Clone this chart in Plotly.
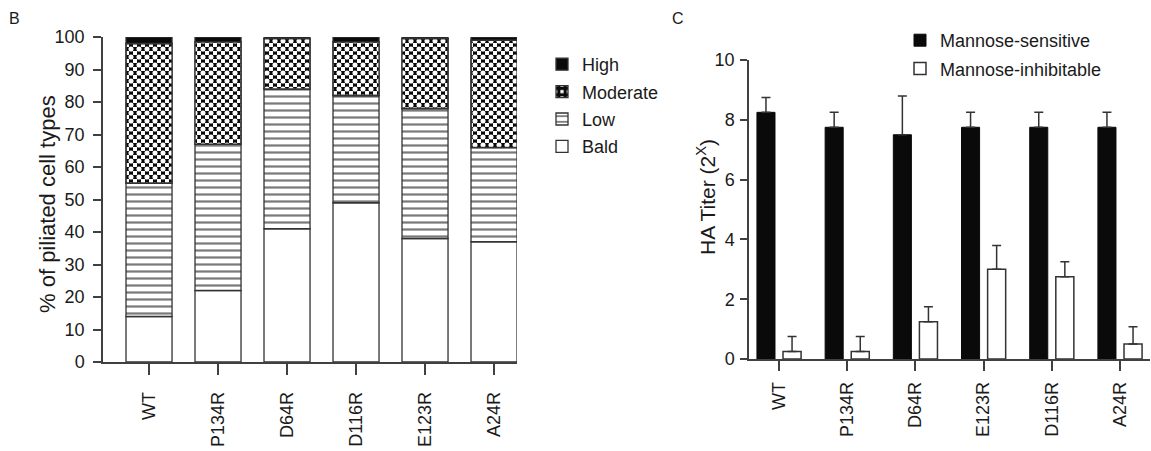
import numpy as np
import plotly.graph_objects as go

# Panel B: piliation categories per strain (% of cells)
strains_b = ["WT", "P134R", "D64R", "D116R", "E123R", "A24R"]
bald = [14, 22, 41, 49, 38, 37]
low = [41, 45, 43, 33, 40, 29]
moderate = [43, 31.5, 15.5, 16.5, 21.5, 33]
high = [2, 1.5, 0.5, 1.5, 0.5, 1]
ticks_b = [0, 10, 20, 30, 40, 50, 60, 70, 80, 90, 100]

# Panel C: haemagglutination titres (log2) with upper error bars
strains_c = ["WT", "P134R", "D64R", "E123R", "D116R", "A24R"]
sensitive = [8.25, 7.75, 7.5, 7.75, 7.75, 7.75]
sensitive_err = [0.5, 0.5, 1.3, 0.5, 0.5, 0.5]
inhibitable = [0.25, 0.25, 1.25, 3.0, 2.75, 0.5]
inhibitable_err = [0.5, 0.5, 0.5, 0.8, 0.5, 0.58]
ticks_c = [0, 2, 4, 6, 8, 10]

W, H = 1151, 451
FONT = "Liberation Sans, Arial, Helvetica, sans-serif"
TXT = "#1a1a1a"
EDGE = "#333333"
AXIS = "#404040"
INK = "#0a0a0a"
CLEAR = "rgba(0,0,0,0)"
CHECK = 8  # checker tile size (two squares per side)


def fx(p):
    return p / W


def fy(p):
    return 1 - p / H


# stacked segment bases
base_low = np.array(bald, dtype=float)
base_mod = base_low + np.array(low, dtype=float)
base_high = base_mod + np.array(moderate, dtype=float)

seg_line = dict(color=EDGE, width=1.3)
common_b = dict(x=strains_b, offsetgroup="b", width=0.667, legend="legend",
                xaxis="x", yaxis="y", hoverinfo="x+y+name")

fig = go.Figure()
fig.add_bar(y=bald, base=[0] * len(bald), name="Bald", legendgroup="bald",
            legendrank=4, marker=dict(color="white", line=seg_line), **common_b)
fig.add_bar(y=low, base=base_low, name="Low", legendgroup="low", legendrank=3,
            marker=dict(color="#7a7a7a", line=seg_line,
                        pattern=dict(shape="-", size=7, solidity=0.32, fgopacity=1,
                                     fgcolor="#7a7a7a", bgcolor="white")),
            **common_b)
fig.add_bar(y=moderate, base=base_mod, name="Moderate", legendgroup="moderate",
            legendrank=2,
            marker=dict(color=INK, line=seg_line,
                        pattern=dict(shape="+", size=CHECK, solidity=0.75, fgopacity=1,
                                     fgcolor=INK, bgcolor="white")),
            **common_b)
# white dots on the grid crossings turn the grid into a checkerboard
fig.add_bar(y=moderate, base=base_mod, name="Moderate", legendgroup="moderate",
            legendrank=2, showlegend=False,
            marker=dict(color=CLEAR, line=seg_line,
                        pattern=dict(shape=".", size=CHECK, solidity=0.32, fgopacity=1,
                                     fgcolor="white", bgcolor=CLEAR)),
            **common_b)
fig.add_bar(y=high, base=base_high, name="High", legendgroup="high", legendrank=1,
            marker=dict(color=INK, line=seg_line), **common_b)

err_style = dict(type="data", symmetric=False, color=EDGE, thickness=1.5, width=4.5)
fig.add_bar(x=strains_c, y=sensitive, name="Mannose-sensitive", offsetgroup="ms",
            legendgroup="ms", xaxis="x2", yaxis="y2", legend="legend2",
            marker=dict(color=INK, line=dict(color=INK, width=1)),
            error_y=dict(array=sensitive_err, arrayminus=[0] * len(sensitive), **err_style))
fig.add_bar(x=strains_c, y=inhibitable, name="Mannose-inhibitable", offsetgroup="mi",
            legendgroup="mi", xaxis="x2", yaxis="y2", legend="legend2",
            marker=dict(color="white", line=dict(color=EDGE, width=1.5)),
            error_y=dict(array=inhibitable_err, arrayminus=[0] * len(inhibitable), **err_style))

axis_common = dict(showline=True, linecolor=AXIS, linewidth=1.5, ticks="outside",
                   tickcolor=AXIS, tickwidth=1.5, showgrid=False, zeroline=False,
                   automargin=False,
                   tickfont=dict(family=FONT, size=18, color=TXT), fixedrange=True)

fig.update_layout(
    width=W, height=H,
    margin=dict(l=0, r=0, t=0, b=0, autoexpand=False),
    paper_bgcolor="white", plot_bgcolor="white",
    font=dict(family=FONT, size=18, color=TXT),
    barmode="group", bargap=0.235, bargroupgap=0.308,
    showlegend=True,
    xaxis=dict(domain=[fx(103), fx(517)], range=[-0.667, 5.333], anchor="y",
               tickangle=-90, ticklen=11, ticklabelstandoff=10, **axis_common),
    yaxis=dict(domain=[fy(362), fy(37)], range=[0, 100], anchor="x",
               tickvals=ticks_b, ticklen=8, ticklabelstandoff=5, **axis_common),
    xaxis2=dict(domain=[fx(749), fx(1150)], range=[-0.44, 5.44], anchor="y2",
                tickangle=-90, ticklen=10, ticklabelstandoff=4, **axis_common),
    yaxis2=dict(domain=[fy(359), fy(60)], range=[0, 10], anchor="x2",
                tickvals=ticks_c, ticklen=7, ticklabelstandoff=2, **axis_common),
    legend=dict(x=fx(542), y=fy(46), xanchor="left", yanchor="top",
                traceorder="grouped", tracegroupgap=1, bgcolor=CLEAR,
                font=dict(family=FONT, size=18, color=TXT)),
    legend2=dict(x=fx(900), y=fy(22), xanchor="left", yanchor="top",
                 traceorder="grouped", tracegroupgap=2, bgcolor=CLEAR,
                 font=dict(family=FONT, size=18, color=TXT)),
    annotations=[
        dict(text="B", x=fx(14), y=fy(18), xref="paper", yref="paper",
             xanchor="center", yanchor="middle", showarrow=False, font=dict(size=16)),
        dict(text="C", x=fx(678), y=fy(18), xref="paper", yref="paper",
             xanchor="center", yanchor="middle", showarrow=False, font=dict(size=16)),
        dict(text="% of piliated cell types", x=fx(47), y=fy(204),
             xref="paper", yref="paper", xanchor="center", yanchor="middle",
             showarrow=False, textangle=-90, font=dict(size=22)),
        dict(text="HA Titer (2<sup>X</sup>)", x=fx(706), y=fy(197),
             xref="paper", yref="paper", xanchor="center", yanchor="middle",
             showarrow=False, textangle=-90, font=dict(size=21)),
    ],
)

fig.write_html("out.html")
